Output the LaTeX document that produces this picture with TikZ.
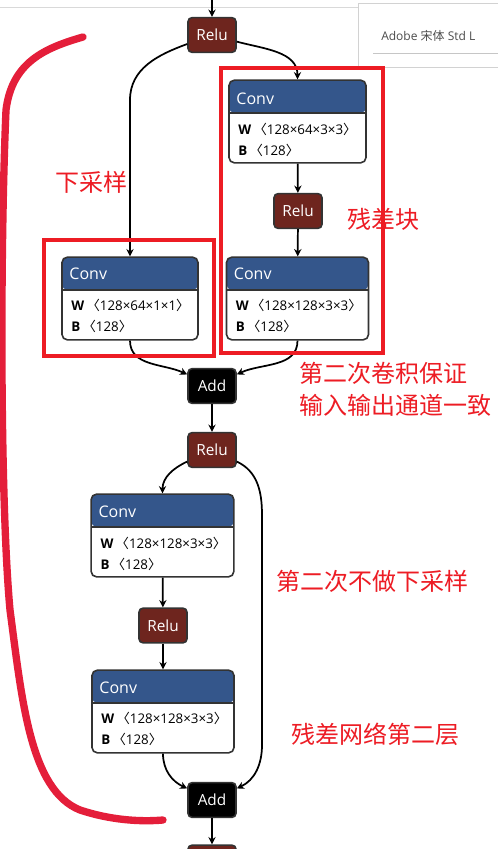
\documentclass[tikz,border=0pt]{standalone}
\usepackage{fontspec}
\usepackage{tikz}
\usetikzlibrary{arrows.meta, positioning}
\newfontfamily\uifont{Open Sans}
\newfontfamily\cjk{Noto Sans CJK SC}
\definecolor{convblue}{RGB}{52,86,139}
\definecolor{relured}{RGB}{110,37,30}
\definecolor{nodeedge}{RGB}{51,51,51}
\definecolor{annotred}{RGB}{237,28,36}
\definecolor{penred}{RGB}{228,30,58}
\newcommand{\wb}[2]{\textbf{#1}\,{\cjk 〈}#2{\cjk 〉}}
\tikzset{
  flow/.style={-{Stealth[length=5.5pt,width=5.5pt]}, line width=1.3pt},
  relu/.style={draw=nodeedge, line width=1.2pt, fill=relured, rounded corners=3pt,
    minimum width=36pt, minimum height=26pt, text=white, font=\uifont\fontsize{11.5}{13}\selectfont},
  add/.style={relu, fill=black},
  conv/.style={draw=nodeedge, line width=1.2pt, fill=white, rounded corners=4pt,
    minimum width=#1, minimum height=62pt, inner sep=0pt,
    path picture={
      \fill[convblue] (path picture bounding box.north west) rectangle ([yshift=-24.5pt]path picture bounding box.north east);
      \draw[nodeedge, line width=1.2pt] ([yshift=-24.5pt]path picture bounding box.north west) -- ([yshift=-24.5pt]path picture bounding box.north east);}},
  convtitle/.style={anchor=west, inner sep=0pt, text=white, font=\uifont\fontsize{12}{14}\selectfont},
  param/.style={anchor=west, inner sep=0pt, font=\uifont\fontsize{10}{12}\selectfont},
  redbox/.style={draw=annotred, line width=3pt},
  note/.style={anchor=west, inner sep=0pt, text=annotred, font=\cjk\fontsize{18}{20}\selectfont},
}
\begin{document}
\begin{tikzpicture}[x=0.75pt, y=0.75pt]
  \useasboundingbox (0,0) rectangle (498,-849);
  \fill[white] (0,0) rectangle (498,-849);
  % font panel at the top
  \draw[gray!30] (0,-7) -- (358,-7);
  \draw[gray!35, fill=white] (358,-3) rectangle (499,-67);
  \draw[gray!45] (373,-53) -- (499,-53);
  \node[anchor=west, inner sep=0pt, text=black!70, font=\uifont\fontsize{9}{11}\selectfont] (fontname) at (381,-36) {Adobe {\cjk 宋体} Std L};

  % first block
  \coordinate (top) at (212,0);
  \node[relu] (relu1) at (212,-35) {Relu};
  \node[conv=102.75pt] (convA) at (297.5,-121.5) {};
  \node[convtitle] at ([shift={(8,-19)}]convA.north west) {Conv};
  \node[param] at ([shift={(10,-50)}]convA.north west) {\wb{W}{128×64×3×3}};
  \node[param] at ([shift={(10,-71)}]convA.north west) {\wb{B}{128}};
  \node[relu] (relu2) at (298,-211) {Relu};
  \node[conv=106.5pt] (convB) at (297.5,-298.5) {};
  \node[convtitle] at ([shift={(8,-17)}]convB.north west) {Conv};
  \node[param] at ([shift={(10,-49)}]convB.north west) {\wb{W}{128×128×3×3}};
  \node[param] at ([shift={(10,-70)}]convB.north west) {\wb{B}{128}};
  \node[conv=102pt] (convC) at (130,-298.5) {};
  \node[convtitle] at ([shift={(8,-17)}]convC.north west) {Conv};
  \node[param] at ([shift={(10,-49)}]convC.north west) {\wb{W}{128×64×1×1}};
  \node[param] at ([shift={(10,-70)}]convC.north west) {\wb{B}{128}};
  \node[add] (add1) at (212,-386) {Add};

  % second block
  \node[relu] (relu3) at (212,-450) {Relu};
  \node[conv=107pt] (convD) at (162.5,-535.5) {};
  \node[convtitle] at ([shift={(8,-18)}]convD.north west) {Conv};
  \node[param] at ([shift={(10,-50)}]convD.north west) {\wb{W}{128×128×3×3}};
  \node[param] at ([shift={(10,-71)}]convD.north west) {\wb{B}{128}};
  \node[relu] (relu4) at (163,-625.5) {Relu};
  \node[conv=106.5pt] (convE) at (163,-711.5) {};
  \node[convtitle] at ([shift={(8,-18)}]convE.north west) {Conv};
  \node[param] at ([shift={(10,-49)}]convE.north west) {\wb{W}{128×128×3×3}};
  \node[param] at ([shift={(10,-70)}]convE.north west) {\wb{B}{128}};
  \node[add] (add2) at (212,-800) {Add};
  \node[relu] (relu5) at (212,-862.5) {}; % cut off by the page

  % connectors
  \coordinate (downA) at (130,-100);
  \coordinate (skipA) at (262,-515);
  \coordinate (skipB) at (262,-745);
  \draw[flow] (top) -- (relu1);
  \draw[flow] (relu1) to[out=-15, in=90] (convA);
  \draw[flow] (convA) -- (relu2);
  \draw[flow] (relu2) -- (convB);
  \draw[flow] (relu1) to[out=200, in=90] (downA) -- (convC);
  \draw[flow] (convC) to[out=-90, in=155] (add1);
  \draw[flow] (convB) to[out=-90, in=25] (add1);
  \draw[flow] (add1) -- (relu3);
  \draw[flow] (relu3) to[out=205, in=90] (convD);
  \draw[flow] (convD) -- (relu4);
  \draw[flow] (relu4) -- (convE);
  \draw[flow] (relu3) to[out=-25, in=90] (skipA) -- (skipB) to[out=-90, in=25] (add2);
  \draw[flow] (convE) to[out=-90, in=155] (add2);
  \draw[flow] (add2) -- (relu5);

  % red marks
  \draw[redbox] (44,-240) rectangle (214,-356);
  \draw[redbox] (221,-68) rectangle (383,-353);
  \draw[penred, line width=5.5pt, line cap=round]
    (83,-37) .. controls (45,-48) and (12,-62) .. (6,-110)
    .. controls (0,-250) and (0,-500) .. (10,-610)
    .. controls (22,-700) and (30,-790) .. (80,-810)
    .. controls (110,-820) and (140,-822) .. (163,-820);
  \node[note] (downsample) at (55,-182) {下采样};
  \node[note] (resblock) at (347,-219) {残差块};
  \node[note] (keepA) at (299,-373) {第二次卷积保证};
  \node[note] (keepB) at (299,-405) {输入输出通道一致};
  \node[note] (nodown) at (276,-581) {第二次不做下采样};
  \node[note] (layer2) at (291,-734) {残差网络第二层};
\end{tikzpicture}
\end{document}
